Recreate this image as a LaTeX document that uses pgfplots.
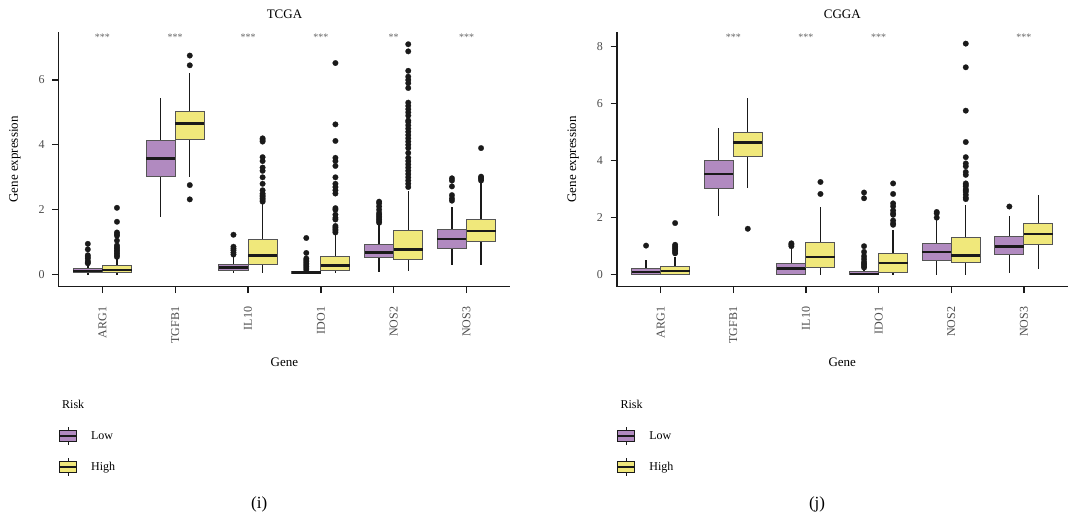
\documentclass[border=0pt]{standalone}
\usepackage{fontspec}
\setmainfont{Liberation Serif}
\usepackage{pgfplots}
\pgfplotsset{compat=1.18}
\usepgfplotslibrary{statistics}
\definecolor{lowcol}{RGB}{177,138,192}
\definecolor{highcol}{RGB}{240,232,123}
\definecolor{boxborder}{RGB}{85,85,85}
\definecolor{inkc}{RGB}{26,26,26}
\pgfplotsset{
  bpbase/.style={draw=boxborder, line width=1pt, mark=*, mark size=2.8pt,
    mark options={fill=inkc, draw=inkc, line width=0.2pt},
    boxplot/draw direction=y,
    boxplot/box extend=0.4, boxplot/whisker extend=0,
    boxplot/every median/.style={draw=inkc, line width=2.6pt},
    boxplot/every whisker/.style={draw=inkc, line width=1.4pt}},
  lowstyle/.style={bpbase, fill=lowcol},
  highstyle/.style={bpbase, fill=highcol},
  myaxis/.style={scale only axis, height=254.5pt,
    axis lines*=left, axis line style={line width=1.3pt, inkc, -},
    tick align=outside, major tick length=6.5pt,
    tick style={line width=1.3pt, inkc},
    xmin=0.4, xmax=6.6, xtick={1,2,3,4,5,6},
    xticklabels={ARG1,TGFB1,IL10,IDO1,NOS2,NOS3},
    xticklabel style={rotate=90, anchor=east, font=\fontsize{12}{12}\selectfont, text=black!70},
    xticklabel shift=10pt,
    yticklabel style={font=\fontsize{12}{12}\selectfont, text=black!70},
    yticklabel shift=4pt,
    /pgf/number format/assume math mode=true,
    clip=false,
    xlabel=Gene, ylabel=Gene expression,
    label style={font=\fontsize{13}{13}\selectfont},
    xlabel style={at={(axis description cs:0.5,-0.298)}, anchor=center},
    ylabel style={at={(axis description cs:-0.097,0.5)}, anchor=center},
    title style={at={(axis description cs:0.5,1.046)}, anchor=center, font=\fontsize{13}{13}\selectfont},
    legend style={at={(axis description cs:0,-0.55)}, anchor=north west, draw=none, fill=none,
      inner sep=0pt, outer sep=0pt, row sep=12pt, column sep=12pt,
      font=\fontsize{12}{12}\selectfont},
    legend cell align=left,
  },
  lowleg/.style={legend image code/.code={
      \draw[line width=0.8pt, inkc] (8.5pt,-9pt) -- (8.5pt,9pt);
      \draw[line width=1pt, draw=inkc, fill=lowcol] (0pt,-5.5pt) rectangle (17pt,5.5pt);
      \draw[line width=1.4pt, inkc] (0pt,0pt) -- (17pt,0pt);}},
  highleg/.style={legend image code/.code={
      \draw[line width=0.8pt, inkc] (8.5pt,-9pt) -- (8.5pt,9pt);
      \draw[line width=1pt, draw=inkc, fill=highcol] (0pt,-5.5pt) rectangle (17pt,5.5pt);
      \draw[line width=1.4pt, inkc] (0pt,0pt) -- (17pt,0pt);}},
}
\newcommand{\lowbox}[6]{\addplot[lowstyle, boxplot prepared={draw position=#1, lower whisker=#2, lower quartile=#3, median=#4, upper quartile=#5, upper whisker=#6}] coordinates}
\newcommand{\highbox}[6]{\addplot[highstyle, boxplot prepared={draw position=#1, lower whisker=#2, lower quartile=#3, median=#4, upper quartile=#5, upper whisker=#6}] coordinates}
\newcommand{\sig}[3]{\node[font=\fontsize{10}{10}\selectfont, text=black!60] at (axis cs:#1,#2) {#3};}
\begin{document}
\begin{tikzpicture}
\path[use as bounding box] (0,0) rectangle (1081pt,519pt);
% ---------------- TCGA ----------------
\begin{axis}[myaxis, at={(58.7pt,232.3pt)}, anchor=south west, width=451.5pt,
  ymin=-0.37, ymax=7.47, ytick={0,2,4,6}, title=TCGA, legend entries={Low,High}]
\addlegendimage{lowleg}
\addlegendimage{highleg}
\lowbox{0.8}{0}{0.06}{0.11}{0.19}{0.32} {(0,0.35)(0,0.38)(0,0.42)(0,0.50)(0,0.55)(0,0.60)(0,0.78)(0,0.95)};
\highbox{1.2}{0}{0.06}{0.14}{0.27}{0.50} {(0,0.55)(0,0.60)(0,0.65)(0,0.70)(0,0.75)(0,0.80)(0,0.85)(0,0.90)(0,1.05)(0,1.20)(0,1.25)(0,1.30)(0,1.63)(0,2.06)};
\lowbox{1.8}{1.78}{3.04}{3.58}{4.14}{5.43} {};
\highbox{2.2}{3.02}{4.17}{4.66}{5.02}{6.22} {(0,2.32)(0,2.76)(0,6.45)(0,6.75)};
\lowbox{2.8}{0.05}{0.12}{0.23}{0.32}{0.58} {(0,0.62)(0,0.68)(0,0.75)(0,0.80)(0,0.86)(0,1.23)};
\highbox{3.2}{0.06}{0.32}{0.60}{1.07}{2.20} {(0,2.25)(0,2.30)(0,2.35)(0,2.40)(0,2.45)(0,2.50)(0,2.60)(0,2.80)(0,3.00)(0,3.20)(0,3.30)(0,3.50)(0,3.62)(0,4.10)(0,4.15)(0,4.20)};
\lowbox{3.8}{0.02}{0.05}{0.07}{0.09}{0.13} {(0,0.15)(0,0.20)(0,0.25)(0,0.30)(0,0.35)(0,0.40)(0,0.45)(0,0.50)(0,0.67)(0,1.13)};
\highbox{4.2}{0.05}{0.12}{0.28}{0.57}{1.25} {(0,1.30)(0,1.35)(0,1.40)(0,1.45)(0,1.50)(0,1.70)(0,1.75)(0,1.85)(0,2.00)(0,2.05)(0,2.50)(0,2.60)(0,2.70)(0,2.80)(0,3.00)(0,3.35)(0,3.50)(0,3.60)(0,4.12)(0,4.63)(0,6.52)};
\lowbox{4.8}{0.09}{0.52}{0.69}{0.93}{1.57} {(0,1.60)(0,1.65)(0,1.70)(0,1.75)(0,1.80)(0,1.85)(0,1.90)(0,2.00)(0,2.10)(0,2.20)(0,2.25)};
\highbox{5.2}{0.12}{0.47}{0.77}{1.35}{2.57} {(0,2.70)(0,2.80)(0,2.90)(0,3.00)(0,3.10)(0,3.20)(0,3.30)(0,3.40)(0,3.50)(0,3.60)(0,3.75)(0,3.90)(0,4.00)(0,4.10)(0,4.20)(0,4.30)(0,4.40)(0,4.50)(0,4.60)(0,4.70)(0,4.75)(0,4.90)(0,5.00)(0,5.10)(0,5.20)(0,5.30)(0,5.75)(0,5.90)(0,6.00)(0,6.10)(0,6.28)(0,6.88)(0,7.10)};
\lowbox{5.8}{0.30}{0.81}{1.10}{1.39}{2.09} {(0,2.28)(0,2.35)(0,2.45)(0,2.72)(0,2.90)(0,2.97)};
\highbox{6.2}{0.30}{1.02}{1.34}{1.71}{2.86} {(0,2.90)(0,2.95)(0,2.98)(0,3.02)(0,3.90)};
\sig{1}{7.3}{***}\sig{2}{7.3}{***}\sig{3}{7.3}{***}\sig{4}{7.3}{***}\sig{5}{7.3}{**}\sig{6}{7.3}{***}
\node[anchor=west, font=\fontsize{12}{12}\selectfont] at (axis description cs:0,-0.464) {Risk};
\node[font=\fontsize{17}{17}\selectfont] at (axis description cs:0.444,-0.857) {(i)};
\end{axis}
% ---------------- CGGA ----------------
\begin{axis}[myaxis, at={(617pt,232.3pt)}, anchor=south west, width=450.5pt,
  ymin=-0.42, ymax=8.5, ytick={0,2,4,6,8}, title=CGGA, legend entries={Low,High}]
\addlegendimage{lowleg}
\addlegendimage{highleg}
\lowbox{0.8}{0}{0.02}{0.10}{0.22}{0.51} {(0,1.02)};
\highbox{1.2}{0}{0.02}{0.13}{0.29}{0.63} {(0,0.75)(0,0.80)(0,0.85)(0,0.90)(0,0.95)(0,1.00)(0,1.05)(0,1.81)};
\lowbox{1.8}{2.06}{3.03}{3.53}{4.01}{5.15} {};
\highbox{2.2}{3.03}{4.16}{4.64}{4.98}{6.19} {(0,1.61)};
\lowbox{2.8}{0}{0.02}{0.22}{0.41}{0.95} {(0,1.00)(0,1.05)(0,1.10)};
\highbox{3.2}{0}{0.26}{0.62}{1.13}{2.36} {(0,2.83)(0,3.25)};
\lowbox{3.8}{0}{0}{0.03}{0.10}{0.20} {(0,0.25)(0,0.30)(0,0.35)(0,0.40)(0,0.45)(0,0.55)(0,0.65)(0,0.80)(0,1.00)(0,2.68)(0,2.88)};
\highbox{4.2}{0}{0.08}{0.41}{0.74}{1.57} {(0,1.75)(0,1.80)(0,1.90)(0,2.10)(0,2.15)(0,2.25)(0,2.40)(0,2.50)(0,2.83)(0,3.20)};
\lowbox{4.8}{0}{0.49}{0.80}{1.09}{1.92} {(0,2.00)(0,2.15)(0,2.20)};
\highbox{5.2}{0}{0.43}{0.68}{1.31}{2.44} {(0,2.65)(0,2.70)(0,2.80)(0,2.90)(0,2.95)(0,3.00)(0,3.10)(0,3.15)(0,3.20)(0,3.50)(0,3.60)(0,3.80)(0,3.90)(0,4.12)(0,4.65)(0,5.75)(0,7.27)(0,8.10)};
\lowbox{5.8}{0.07}{0.71}{0.99}{1.35}{2.06} {(0,2.39)};
\highbox{6.2}{0.19}{1.05}{1.43}{1.79}{2.80} {};
\sig{2}{8.33}{***}\sig{3}{8.33}{***}\sig{4}{8.33}{***}\sig{6}{8.33}{***}
\node[anchor=west, font=\fontsize{12}{12}\selectfont] at (axis description cs:0,-0.464) {Risk};
\node[font=\fontsize{17}{17}\selectfont] at (axis description cs:0.444,-0.857) {(j)};
\end{axis}
\end{tikzpicture}
\end{document}
